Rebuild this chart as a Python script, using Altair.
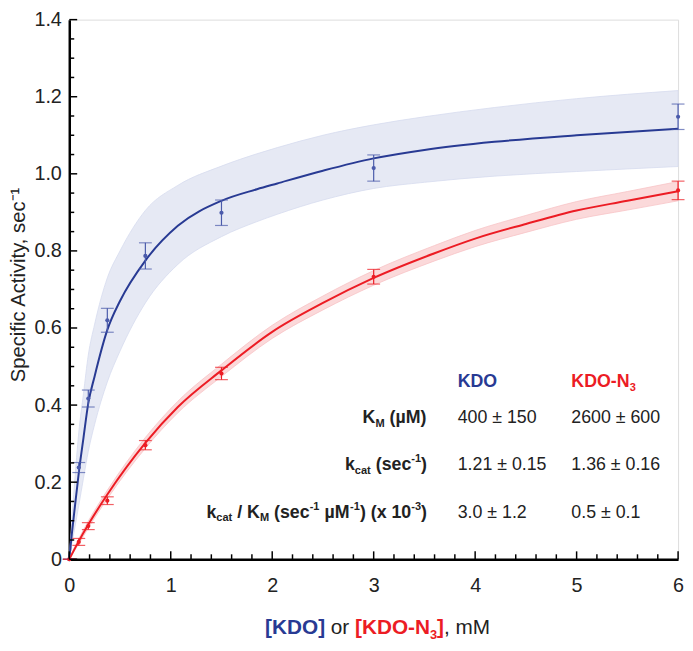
import altair as alt
import pandas as pd

# ---------------- data ----------------
conc = [0, 0.09375, 0.1875, 0.375, 0.75, 1.5, 3, 6]
kdo = [0, 0.238, 0.417, 0.620, 0.787, 0.899, 1.015, 1.148]
kdo_err = [0, 0.013, 0.022, 0.031, 0.034, 0.033, 0.034, 0.033]
kdon3 = [0, 0.045, 0.086, 0.152, 0.296, 0.482, 0.733, 0.957]
kdon3_err = [0, 0.009, 0.009, 0.010, 0.012, 0.016, 0.019, 0.024]

blue_fit_x = [0, 0.025, 0.05, 0.094, 0.14, 0.1875, 0.25, 0.375, 0.5, 0.75, 1.07, 1.5, 1.85, 2.05, 2.5, 3, 3.5, 4.19, 5, 6]
blue_fit_y = [0, 0.065, 0.124, 0.225, 0.315, 0.405, 0.475, 0.595, 0.67, 0.775, 0.865, 0.93, 0.96, 0.975, 1.008, 1.04, 1.062, 1.083, 1.10, 1.117]
blue_band_hi = [0, 0.10, 0.19, 0.33, 0.43, 0.53, 0.61, 0.73, 0.80, 0.905, 0.97, 1.02, 1.052, 1.068, 1.10, 1.127, 1.148, 1.172, 1.195, 1.216]
blue_band_lo = [0, 0.04, 0.075, 0.14, 0.21, 0.28, 0.35, 0.46, 0.54, 0.665, 0.765, 0.837, 0.876, 0.895, 0.932, 0.962, 0.978, 0.994, 1.006, 1.019]

red_fit_x = [0, 0.094, 0.1875, 0.375, 0.75, 1.07, 1.5, 2, 2.5, 3, 3.6, 4, 4.5, 5, 5.5, 6]
red_fit_y = [0, 0.047, 0.09, 0.168, 0.302, 0.395, 0.49, 0.59, 0.665, 0.73, 0.794, 0.832, 0.87, 0.905, 0.93, 0.955]
red_band_hi = [0.003, 0.054, 0.099, 0.179, 0.316, 0.41, 0.506, 0.607, 0.683, 0.749, 0.814, 0.853, 0.892, 0.928, 0.954, 0.98]
red_band_lo = [0, 0.04, 0.081, 0.157, 0.288, 0.38, 0.474, 0.573, 0.647, 0.711, 0.774, 0.811, 0.848, 0.882, 0.906, 0.93]

x_major = [0, 1, 2, 3, 4, 5, 6]
x_minor = [round(i * 0.2, 2) for i in range(31) if i % 5 != 0]
y_major = [0, 0.2, 0.4, 0.6, 0.8, 1.0, 1.2, 1.4]
y_minor = [round(i * 0.05, 2) for i in range(29) if i % 4 != 0]

table_cols = ["KDO", "KDO-N"]
km_vals = ["400 ± 150", "2600 ± 600"]
kcat_vals = ["1.21 ± 0.15", "1.36 ± 0.16"]
eff_vals = ["3.0 ± 1.2", "0.5 ± 0.1"]

# ---------------- style ----------------
W, H = 616, 546
TOP = 8
FONT = "Liberation Sans"
BLUE = "#283a93"
BLUE_BAR = "#4b5bab"
BLUE_BAND = "#e6e9f4"
RED = "#ec1c24"
RED_BAND = "#fbd9da"
TXT = "#222222"

xs = alt.Scale(domain=[0, 6], nice=False)
ys = alt.Scale(domain=[0, 1.4], nice=False)

pts = pd.DataFrame({"x": conc * 2,
                    "y": kdo + kdon3,
                    "e": kdo_err + kdon3_err,
                    "s": ["KDO"] * len(conc) + ["KDO-N3"] * len(conc)})
blue_fit = pd.DataFrame({"x": blue_fit_x, "y": blue_fit_y, "lo": blue_band_lo, "hi": blue_band_hi})
red_fit = pd.DataFrame({"x": red_fit_x, "y": red_fit_y, "lo": red_band_lo, "hi": red_band_hi})


def py(page_y):
    return page_y - 8 - TOP


X = alt.X("x:Q", scale=xs,
          axis=alt.Axis(values=x_major, format="d", tickSize=0, domainColor="black", domainWidth=2.5,
                        labelFont=FONT, labelFontSize=20, labelColor=TXT, labelPadding=17,
                        grid=False, title=None, labelFlush=False))
Y = alt.Y("y:Q", scale=ys,
          axis=alt.Axis(values=y_major, tickSize=0, domainColor="black", domainWidth=2.5,
                        labelFont=FONT, labelFontSize=20, labelColor=TXT, labelPadding=8,
                        labelExpr="datum.value == 0 ? '0' : format(datum.value, '.1f')",
                        grid=False, labelFlush=False,
                        title="Specific Activity, sec⁻¹", titleFont=FONT, titleFontSize=20.5,
                        titleFontWeight="normal", titleColor=TXT, titleAngle=270,
                        titleX=-51, titleY=py(284),
                        titleAlign="center", titleBaseline="middle"))

band_b = alt.Chart(blue_fit).mark_area(color=BLUE_BAND, opacity=1, stroke="#d7dcee", strokeWidth=0.8,
                                       interpolate="monotone").encode(
    x=alt.X("x:Q", scale=xs), y=alt.Y("lo:Q", scale=ys), y2="hi:Q")
band_r = alt.Chart(red_fit).mark_area(color=RED_BAND, opacity=1, stroke="#f8c4c6", strokeWidth=0.8,
                                      interpolate="monotone").encode(
    x=alt.X("x:Q", scale=xs), y=alt.Y("lo:Q", scale=ys), y2="hi:Q")
line_b = alt.Chart(blue_fit).mark_line(color=BLUE, strokeWidth=2, interpolate="monotone").encode(x=X, y=Y)
line_r = alt.Chart(red_fit).mark_line(color=RED, strokeWidth=2, interpolate="monotone").encode(
    x=alt.X("x:Q", scale=xs), y=alt.Y("y:Q", scale=ys))

col = alt.Color("s:N", scale=alt.Scale(domain=["KDO", "KDO-N3"], range=[BLUE_BAR, RED]), legend=None)
colp = alt.Color("s:N", scale=alt.Scale(domain=["KDO", "KDO-N3"], range=[BLUE, RED]), legend=None)
eb = alt.Chart(pts).transform_calculate(lo="datum.y - datum.e", hi="datum.y + datum.e")
bars = eb.mark_rule(strokeWidth=1.2).encode(x=alt.X("x:Q", scale=xs), y=alt.Y("lo:Q", scale=ys), y2="hi:Q", color=col)
cap_lo = eb.mark_tick(orient="horizontal", size=13, thickness=1.2).encode(
    x=alt.X("x:Q", scale=xs), y=alt.Y("lo:Q", scale=ys), color=col)
cap_hi = eb.mark_tick(orient="horizontal", size=13, thickness=1.2).encode(
    x=alt.X("x:Q", scale=xs), y=alt.Y("hi:Q", scale=ys), color=col)
dots = alt.Chart(pts).mark_circle(size=18, opacity=1).encode(
    x=alt.X("x:Q", scale=xs), y=alt.Y("y:Q", scale=ys), color=colp)


# inward ticks
def tick_rules(vals, axis, length):
    df = pd.DataFrame({"v": vals})
    if axis == "x":
        return alt.Chart(df).mark_rule(color="black", strokeWidth=1.5).encode(
            x=alt.X("v:Q", scale=xs), y=alt.value(H), y2=alt.value(H - length))
    return alt.Chart(df).mark_rule(color="black", strokeWidth=1.5).encode(
        y=alt.Y("v:Q", scale=ys), x=alt.value(0), x2=alt.value(length))


ticks = [tick_rules(x_major, "x", 8), tick_rules(x_minor, "x", 5),
         tick_rules(y_major, "y", 8), tick_rules(y_minor, "y", 5)]

# ---------------- rich text (sub/superscripts) ----------------
REG = {' ': 278, '(': 333, ')': 333, '[': 278, ']': 278, ',': 278, '.': 278, '-': 333, '/': 278,
       '±': 549, 'a': 556, 'c': 500, 'e': 556, 'k': 500, 'm': 833, 'o': 556, 'r': 333, 's': 500,
       't': 278, 'x': 500, 'K': 667, 'D': 722, 'O': 778, 'N': 722, 'M': 833, 'µ': 576}
BOLD = {' ': 278, '(': 333, ')': 333, '[': 333, ']': 333, ',': 278, '.': 278, '-': 333, '/': 278,
        '±': 549, 'a': 556, 'c': 556, 'e': 556, 'k': 556, 'm': 889, 'o': 611, 'r': 389, 's': 556,
        't': 333, 'x': 556, 'K': 722, 'D': 722, 'O': 778, 'N': 722, 'M': 833, 'µ': 611}


def text_w(t, bold, fs):
    tbl = BOLD if bold else REG
    return sum(tbl.get(c, 556) for c in t) / 1000 * fs


def rich(segs, x0, y0, fs, align="left"):
    """segs: list of (text, kind, color, bold); kind in n/sub/sup"""
    sizes = [fs if k == "n" else fs * 0.62 for _, k, _, _ in segs]
    widths = [text_w(t, b, s) for (t, k, c, b), s in zip(segs, sizes)]
    total = sum(widths)
    x = x0 - total if align == "right" else (x0 - total / 2 if align == "center" else x0)
    out = []
    for (t, k, c, b), s, w in zip(segs, sizes, widths):
        dy = 0 if k == "n" else (fs * 0.32 if k == "sub" else -fs * 0.33)
        core = t.strip(" ")
        lead = text_w(t[:len(t) - len(t.lstrip(" "))], b, s)
        out.append(alt.Chart(alt.Data(values=[{}])).mark_text(
            text=core, font=FONT, fontSize=s, fontWeight="bold" if b else "normal", color=c,
            align="left", baseline="middle").encode(x=alt.value(x + lead), y=alt.value(y0 + dy)))
        x += w
    return out


texts = []
# x-axis title
texts += rich([("[KDO]", "n", BLUE, True), (" or ", "n", TXT, False), ("[KDO-N", "n", RED, True),
               ("3", "sub", RED, True), ("]", "n", RED, True), (", mM", "n", TXT, False)],
              312, py(632), 21, "center")
FS = 18
C1, C2, LX = 393, 508, 362
RH, R1, R2, R3 = py(383), py(419), py(467), py(515)
texts += rich([(table_cols[0], "n", BLUE, True)], C1, RH, FS)
texts += rich([(table_cols[1], "n", RED, True), ("3", "sub", RED, True)], C2, RH, FS)
texts += rich([("K", "n", TXT, True), ("M", "sub", TXT, True), (" (µM)", "n", TXT, True)], LX, R1, FS, "right")
texts += rich([("k", "n", TXT, True), ("cat", "sub", TXT, True), (" (sec", "n", TXT, True),
               ("-1", "sup", TXT, True), (")", "n", TXT, True)], LX, R2, FS, "right")
texts += rich([("k", "n", TXT, True), ("cat", "sub", TXT, True), (" / K", "n", TXT, True),
               ("M", "sub", TXT, True), (" (sec", "n", TXT, True), ("-1", "sup", TXT, True),
               (" µM", "n", TXT, True), ("-1", "sup", TXT, True), (") (x 10", "n", TXT, True),
               ("-3", "sup", TXT, True), (")", "n", TXT, True)], LX, R3, FS, "right")
for v, yy in zip([km_vals, kcat_vals, eff_vals], [R1, R2, R3]):
    texts += rich([(v[0], "n", TXT, False)], C1, yy, FS)
    texts += rich([(v[1], "n", TXT, False)], C2, yy, FS)

chart = alt.layer(line_b, band_b, band_r, line_b, line_r, bars, cap_lo, cap_hi, dots, *ticks, *texts).properties(
    width=W, height=H,
    autosize=alt.AutoSizeParams(type="none"),
    padding={"left": 62, "top": TOP, "right": 7, "bottom": 85},
).configure_view(stroke=None).configure(background="white")

chart.save("out.html", embed_options={"renderer": "svg", "actions": False})
